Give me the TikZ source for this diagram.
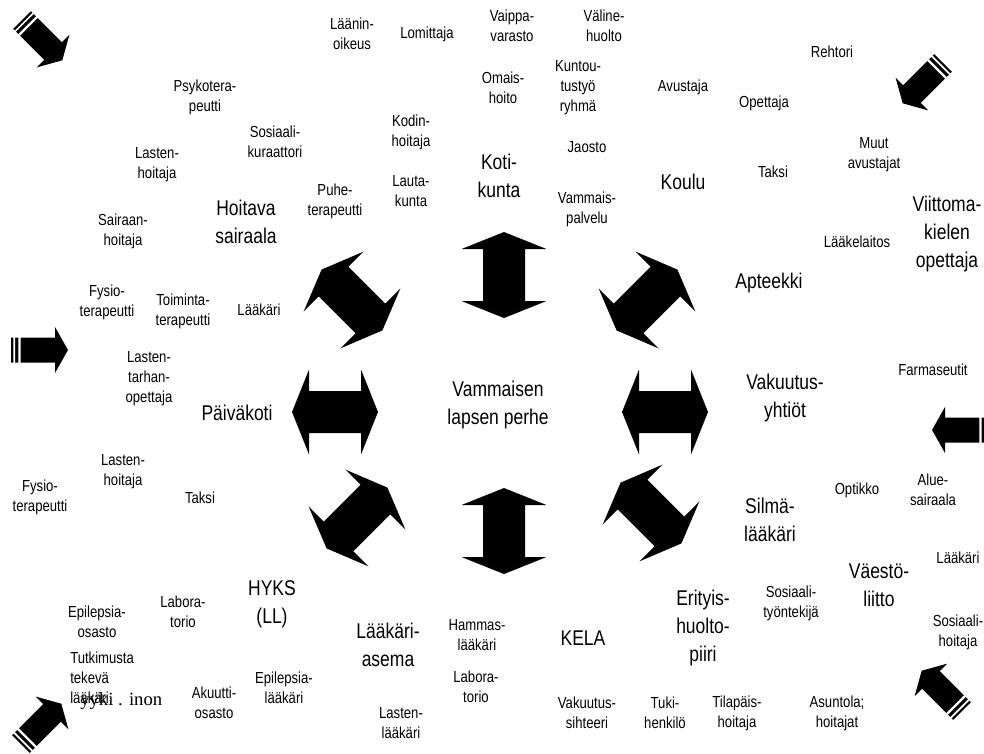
\documentclass[tikz,border=0pt]{standalone}
\usepackage{fontspec}
\setmainfont[FakeStretch=0.82]{Liberation Sans}
\newfontfamily\serifglyphs{Liberation Serif}

% two-headed block arrow around the family: centre, angle
\newcommand\twoway[2]{%
  \fill[shift={#1},rotate=#2] (-43,0) -- (-26,42.5) -- (-26,21) -- (26,21)
    -- (26,42.5) -- (43,0) -- (26,-42.5) -- (26,-21) -- (-26,-21)
    -- (-26,-42.5) -- cycle;}

% striped arrow pointing inwards: tail point, angle
\newcommand\inarrow[2]{%
  \begin{scope}[shift={#1},rotate=#2]
    \fill (0,-12.5) -- (44,-12.5) -- (44,-23) -- (57,0) -- (44,23)
      -- (44,12.5) -- (0,12.5) -- cycle;
    \fill[white] (2.3,-13) rectangle (4,13) (7.3,-13) rectangle (9.7,13);
  \end{scope}}

\begin{document}
\begin{tikzpicture}[x=0.75pt,y=-0.75pt,
  lbl/.style={font=\fontsize{12}{15}\selectfont, align=center, inner sep=0pt},
  big/.style={font=\fontsize{16}{21}\selectfont, align=center, inner sep=0pt}]
\useasboundingbox[fill=white] (0,0) rectangle (984,753);

% ---- arrows round the family
\twoway{(504,275)}{90}
\twoway{(504,531)}{90}
\twoway{(335,412)}{0}
\twoway{(665,412)}{0}
\twoway{(352,300)}{-45}
\twoway{(647,300)}{45}
\twoway{(357,518)}{45}
\twoway{(651,513)}{-45}

% ---- arrows coming in from the edges
\inarrow{(22,20)}{-45}
\inarrow{(943,63)}{-135}
\inarrow{(11,350)}{0}
\inarrow{(989,430)}{180}
\inarrow{(21,744)}{45}
\inarrow{(962,711)}{135}

% ---- centre
\node[big] (perhe) at (498,405) {Vammaisen\\lapsen perhe};

% ---- main bodies
\node[big] (kotikunta) at (499,176) {Koti-\\kunta};
\node[big] (koulu) at (683,182) {Koulu};
\node[big] (sairaala) at (246,222) {Hoitava\\sairaala};
\node[big] (viittoma) at (947,234) {Viittoma-\\kielen\\opettaja};
\node[big] (apteekki) at (769,283) {Apteekki};
\node[big] (paivakoti) at (237,413) {Päiväkoti};
\node[big] (vakuutus) at (785,398) {Vakuutus-\\yhtiöt};
\node[big] (silma) at (770,520) {Silmä-\\lääkäri};
\node[big] (vaesto) at (879,585) {Väestö-\\liitto};
\node[big] (erityis) at (703,628) {Erityis-\\huolto-\\piiri};
\node[big] (hyks) at (272,604) {HYKS\\(LL)};
\node[big] (asema) at (388,645) {Lääkäri-\\asema};
\node[big] (kela) at (583,638) {KELA};

% ---- people and services
\node[lbl] (laanin) at (352,34) {Läänin-\\oikeus};
\node[lbl] (lomittaja) at (427,34) {Lomittaja};
\node[lbl] (vaippa) at (512,26) {Vaippa-\\varasto};
\node[lbl] (valine) at (604,26) {Väline-\\huolto};
\node[lbl] (rehtori) at (832,52) {Rehtori};
\node[lbl] (psyko) at (205,97) {Psykotera-\\peutti};
\node[lbl] (omais) at (503,88) {Omais-\\hoito};
\node[lbl] (kuntou) at (578,88) {Kuntou-\\tustyö\\ryhmä};
\node[lbl] (avustaja) at (683,87) {Avustaja};
\node[lbl] (opettaja) at (764,103) {Opettaja};
\node[lbl] (kuraattori) at (275,142) {Sosiaali-\\kuraattori};
\node[lbl] (kodin) at (411,132) {Kodin-\\hoitaja};
\node[lbl] (lhoitaja1) at (157,165) {Lasten-\\hoitaja};
\node[lbl] (jaosto) at (587,147) {Jaosto};
\node[lbl] (muut) at (874,155) {Muut\\avustajat};
\node[lbl] (taksi1) at (773,172) {Taksi};
\node[lbl] (lauta) at (411,191) {Lauta-\\kunta};
\node[lbl] (puhe) at (335,201) {Puhe-\\terapeutti};
\node[lbl] (vpalvelu) at (587,209) {Vammais-\\palvelu};
\node[lbl] (sairaan) at (123,231) {Sairaan-\\hoitaja};
\node[lbl] (laakelaitos) at (857,242) {Lääkelaitos};
\node[lbl] (fysio1) at (107,302) {Fysio-\\terapeutti};
\node[lbl] (toiminta) at (183,311) {Toiminta-\\terapeutti};
\node[lbl] (laakari1) at (259,310) {Lääkäri};
\node[lbl] (ltarhan) at (149,379) {Lasten-\\tarhan-\\opettaja};
\node[lbl] (farma) at (933,370) {Farmaseutit};
\node[lbl] (lhoitaja2) at (123,472) {Lasten-\\hoitaja};
\node[lbl] (fysio2) at (40,497) {Fysio-\\terapeutti};
\node[lbl] (taksi2) at (200,498) {Taksi};
\node[lbl] (optikko) at (857,490) {Optikko};
\node[lbl] (alue) at (933,490) {Alue-\\sairaala};
\node[lbl] (laakari2) at (958,558) {Lääkäri};
\node[lbl] (styont) at (791,603) {Sosiaali-\\työntekijä};
\node[lbl] (shoitaja) at (958,632) {Sosiaali-\\hoitaja};
\node[lbl] (eosasto) at (97,622) {Epilepsia-\\osasto};
\node[lbl] (labra1) at (183,612) {Labora-\\torio};
\node[lbl] (hammas) at (477,635) {Hammas-\\lääkäri};
\node[lbl, align=left, anchor=west] (tutkimus) at (70,678) {Tutkimusta\\tekevä\\lääkäri};
\node[anchor=base west, inner sep=0pt, font=\serifglyphs\fontsize{14}{16}\selectfont] (overlay) at (80,705) {yyki . inon};
\node[lbl] (labra2) at (476,687) {Labora-\\torio};
\node[lbl] (akuutti) at (214,703) {Akuutti-\\osasto};
\node[lbl] (elaakari) at (284,688) {Epilepsia-\\lääkäri};
\node[lbl] (llaakari) at (401,723) {Lasten-\\lääkäri};
\node[lbl] (sihteeri) at (587,713) {Vakuutus-\\sihteeri};
\node[lbl] (tuki) at (665,713) {Tuki-\\henkilö};
\node[lbl] (tilapais) at (737,713) {Tilapäis-\\hoitaja};
\node[lbl] (asuntola) at (837,713) {Asuntola;\\hoitajat};
\end{tikzpicture}
\end{document}
